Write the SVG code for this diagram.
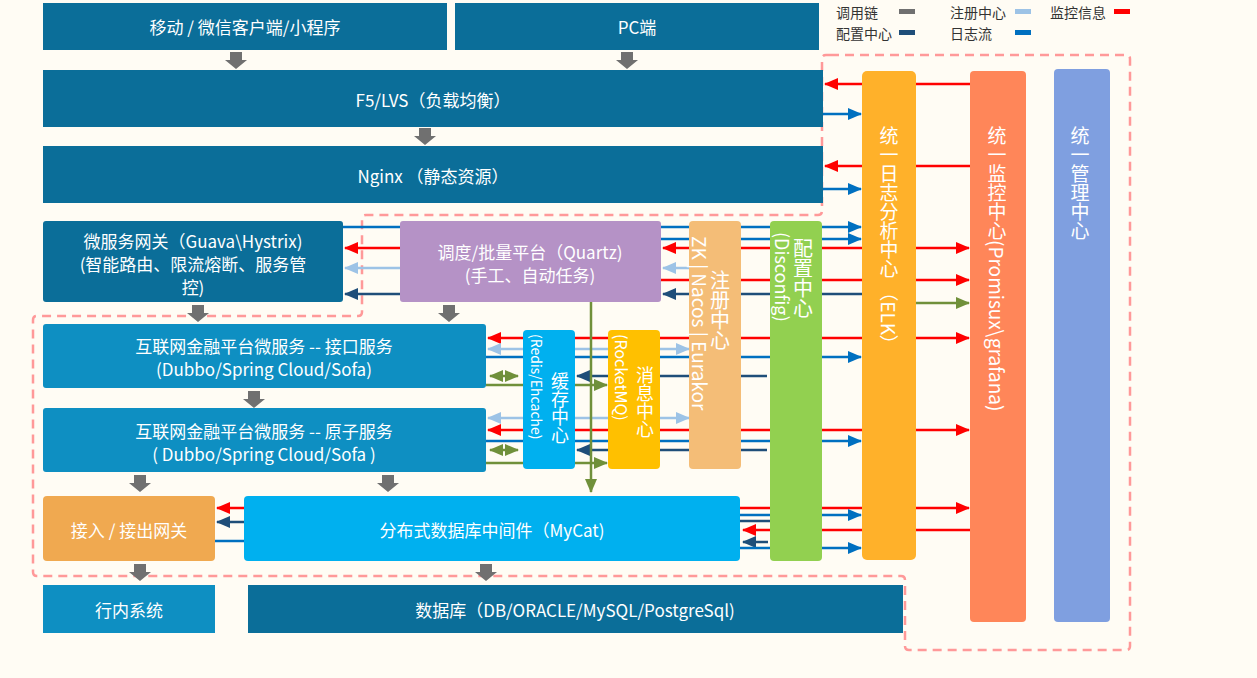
<svg xmlns="http://www.w3.org/2000/svg" width="1257" height="678" viewBox="0 0 1257 678">
<style>
text{font-family:"Noto Sans CJK SC","Liberation Sans",sans-serif;fill:#fff;font-size:17px;text-anchor:middle;dominant-baseline:central}
.v{writing-mode:vertical-rl;text-anchor:start;dominant-baseline:central;font-size:18px}
.lg{fill:#333;font-size:14px;text-anchor:start}
line{stroke-width:2.5;fill:none}
.r{stroke:#ff0000}.b{stroke:#0070c0}.lb{stroke:#9dc3e6}.d{stroke:#1f4e79}.o{stroke:#70903a}
</style>
<defs>
<marker id="mr" markerUnits="userSpaceOnUse" markerWidth="14" markerHeight="12" refX="13" refY="6" orient="auto-start-reverse"><path d="M0,0L14,6L0,12z" fill="#ff0000"/></marker>
<marker id="mb" markerUnits="userSpaceOnUse" markerWidth="14" markerHeight="12" refX="13" refY="6" orient="auto-start-reverse"><path d="M0,0L14,6L0,12z" fill="#0070c0"/></marker>
<marker id="mlb" markerUnits="userSpaceOnUse" markerWidth="14" markerHeight="12" refX="13" refY="6" orient="auto-start-reverse"><path d="M0,0L14,6L0,12z" fill="#9dc3e6"/></marker>
<marker id="md" markerUnits="userSpaceOnUse" markerWidth="14" markerHeight="12" refX="13" refY="6" orient="auto-start-reverse"><path d="M0,0L14,6L0,12z" fill="#1f4e79"/></marker>
<marker id="mo" markerUnits="userSpaceOnUse" markerWidth="14" markerHeight="12" refX="13" refY="6" orient="auto-start-reverse"><path d="M0,0L14,6L0,12z" fill="#70903a"/></marker>
<symbol id="ga" overflow="visible"><path d="M-6,0H6V8H11L0,17L-11,8H-6z" fill="#707070"/></symbol>
</defs>
<rect width="1257" height="678" fill="#fffcf4"/>
<path d="M830,55H1126Q1130,55 1130,59V646Q1130,650 1126,650H909Q905,650 905,646V580Q905,576 901,576H37Q33,576 33,572V320Q33,316 37,316H358Q362,316 362,312V219Q362,215 366,215H818Q822,215 822,211V59Q822,55 826,55z" fill="none" stroke="#ff9999" stroke-width="2.5" stroke-dasharray="9,6"/>
<g id="legend">
<text class="lg" x="836" y="12">调用链</text><rect x="899" y="9" width="16" height="5" fill="#707070"/>
<text class="lg" x="950" y="12">注册中心</text><rect x="1015" y="9" width="16" height="5" fill="#9dc3e6"/>
<text class="lg" x="1050" y="12">监控信息</text><rect x="1114" y="9" width="16" height="5" fill="#ff0000"/>
<text class="lg" x="836" y="33">配置中心</text><rect x="899" y="30" width="16" height="5" fill="#1f4e79"/>
<text class="lg" x="950" y="33">日志流</text><rect x="1015" y="30" width="16" height="5" fill="#0070c0"/>
</g>
<g id="connectors">
<line class="r" x1="970" y1="84" x2="825" y2="84" marker-end="url(#mr)"/>
<line class="b" x1="823" y1="114" x2="861" y2="114" marker-end="url(#mb)"/>
<line class="r" x1="970" y1="166" x2="825" y2="166" marker-end="url(#mr)"/>
<line class="b" x1="823" y1="189" x2="861" y2="189" marker-end="url(#mb)"/>
<line class="b" x1="343" y1="227" x2="861" y2="227" marker-end="url(#mb)"/>
<line class="b" x1="661" y1="239" x2="861" y2="239" marker-end="url(#mb)"/>
<line class="r" x1="862" y1="248" x2="663" y2="248" marker-end="url(#mr)"/>
<line class="r" x1="916" y1="248" x2="969" y2="248" marker-end="url(#mr)"/>
<line class="r" x1="400" y1="248" x2="345" y2="248" marker-end="url(#mr)"/>
<line class="lb" x1="689" y1="268" x2="663" y2="268" marker-end="url(#mlb)"/>
<line class="lb" x1="400" y1="268" x2="345" y2="268" marker-end="url(#mlb)"/>
<line class="r" x1="661" y1="280" x2="969" y2="280" marker-end="url(#mr)"/>
<line class="d" x1="862" y1="294" x2="663" y2="294" marker-end="url(#md)"/>
<line class="d" x1="400" y1="294" x2="345" y2="294" marker-end="url(#md)"/>
<line class="o" x1="916" y1="303" x2="969" y2="303" marker-end="url(#mo)"/>
<line class="r" x1="488" y1="338" x2="969" y2="338" marker-start="url(#mr)" marker-end="url(#mr)"/>
<line class="lb" x1="488" y1="349" x2="689" y2="349" marker-start="url(#mlb)" marker-end="url(#mlb)"/>
<line class="b" x1="486" y1="357" x2="861" y2="357" marker-end="url(#mb)"/>
<line class="d" x1="767" y1="376" x2="577" y2="376" marker-end="url(#md)"/>
<line class="o" x1="490" y1="376" x2="518" y2="376" marker-start="url(#mo)" marker-end="url(#mo)"/>
<line class="o" x1="486" y1="385" x2="607" y2="385" marker-end="url(#mo)"/>
<line class="lb" x1="488" y1="418" x2="689" y2="418" marker-start="url(#mlb)" marker-end="url(#mlb)"/>
<line class="r" x1="488" y1="430" x2="969" y2="430" marker-start="url(#mr)" marker-end="url(#mr)"/>
<line class="b" x1="486" y1="441" x2="861" y2="441" marker-end="url(#mb)"/>
<line class="d" x1="767" y1="450" x2="577" y2="450" marker-end="url(#md)"/>
<line class="o" x1="490" y1="450" x2="518" y2="450" marker-start="url(#mo)" marker-end="url(#mo)"/>
<line class="o" x1="486" y1="463" x2="607" y2="463" marker-end="url(#mo)"/>
<line class="o" x1="591" y1="302" x2="591" y2="492" marker-end="url(#mo)"/>
<line class="r" x1="244" y1="508" x2="217" y2="508" marker-end="url(#mr)"/>
<line class="d" x1="244" y1="522" x2="217" y2="522" marker-end="url(#md)"/>
<line class="b" x1="215" y1="541" x2="244" y2="541"/>
<line class="r" x1="740" y1="508" x2="969" y2="508" marker-end="url(#mr)"/>
<line class="b" x1="740" y1="515" x2="861" y2="515" marker-end="url(#mb)"/>
<line class="d" x1="740" y1="521" x2="770" y2="521"/>
<line class="r" x1="970" y1="530" x2="743" y2="530" marker-end="url(#mr)"/>
<line class="d" x1="768" y1="542" x2="743" y2="542" marker-end="url(#md)"/>
<line class="b" x1="740" y1="548" x2="861" y2="548" marker-end="url(#mb)"/>
<use href="#ga" x="236" y="52"/><use href="#ga" x="627" y="52"/><use href="#ga" x="425" y="128"/>
<use href="#ga" x="198" y="305"/><use href="#ga" x="449" y="305"/><use href="#ga" x="254" y="391"/>
<use href="#ga" x="140" y="475"/><use href="#ga" x="388" y="475"/><use href="#ga" x="140" y="564"/><use href="#ga" x="486" y="564"/>
</g>
<g id="mobile"><rect x="43" y="3" width="404" height="47" fill="#0b6e99"/><text x="245" y="26">移动 / 微信客户端/小程序</text></g>
<g id="pc"><rect x="455" y="3" width="364" height="47" fill="#0b6e99"/><text x="637" y="26">PC端</text></g>
<g id="f5"><rect x="43" y="70" width="780" height="57" fill="#0b6e99"/><text x="433" y="99">F5/LVS（负载均衡）</text></g>
<g id="nginx"><rect x="43" y="146" width="780" height="57" fill="#0b6e99"/><text x="433" y="175">Nginx （静态资源）</text></g>
<g id="gateway"><rect x="43" y="221" width="300" height="81" rx="3" fill="#0b6e99"/><text x="193" y="240">微服务网关（Guava\Hystrix)</text><text x="193" y="263">(智能路由、限流熔断、服务管</text><text x="193" y="286">控)</text></g>
<g id="scheduler"><rect x="400" y="221" width="261" height="81" rx="3" fill="#b592c6"/><text x="530" y="251">调度/批量平台（Quartz)</text><text x="530" y="274">(手工、自动任务)</text></g>
<g id="api"><rect x="43" y="324" width="443" height="64" rx="3" fill="#0e8fc2"/><text x="264" y="345">互联网金融平台微服务 -- 接口服务</text><text x="264" y="368">(Dubbo/Spring Cloud/Sofa)</text></g>
<g id="atom"><rect x="43" y="408" width="443" height="64" rx="3" fill="#0e8fc2"/><text x="264" y="430">互联网金融平台微服务 -- 原子服务</text><text x="264" y="453">( Dubbo/Spring Cloud/Sofa )</text></g>
<g id="cache"><rect x="523" y="330" width="52" height="139" rx="4" fill="#00b0ef"/><text class="v" x="560" y="372">缓存中心</text><text class="v" x="537" y="334" style="font-size:14px">(Redis/Ehcache)</text></g>
<g id="mq"><rect x="608" y="330" width="52" height="139" rx="4" fill="#ffc000"/><text class="v" x="645" y="366">消息中心</text><text class="v" x="622" y="334" style="font-size:16px">(RocketMQ)</text></g>
<g id="registry"><rect x="689" y="221" width="52" height="248" rx="4" fill="#f4bd77"/><text class="v" x="720" y="270" style="font-size:20px">注册中心</text><text class="v" x="700" y="236" style="font-size:19px">ZK | Nacos | Eurakor</text></g>
<g id="config"><rect x="770" y="221" width="52" height="340" rx="4" fill="#92d050"/><text class="v" x="803" y="238" style="font-size:20px">配置中心</text><text class="v" x="783" y="232">(Disconfig)</text></g>
<g id="elk"><rect x="862" y="71" width="54" height="489" rx="5" fill="#ffb12a"/><text class="v" x="889" y="126" style="font-size:19px">统一日志分析中心 （ELK）</text></g>
<g id="monitor"><rect x="970" y="71" width="56" height="551" rx="4" fill="#ff8659"/><text class="v" x="997" y="126" style="font-size:19px">统一监控中心(Promisux\grafana)</text></g>
<g id="manage"><rect x="1054" y="69" width="56" height="553" rx="4" fill="#7f9fe0"/><text class="v" x="1080" y="126" style="font-size:19px">统一管理中心</text></g>
<g id="iogw"><rect x="43" y="496" width="172" height="65" rx="4" fill="#f0a950"/><text x="129" y="529">接入 / 接出网关</text></g>
<g id="mycat"><rect x="244" y="496" width="496" height="65" rx="4" fill="#00b0ef"/><text x="492" y="529">分布式数据库中间件（MyCat)</text></g>
<g id="bank"><rect x="43" y="585" width="172" height="48" fill="#0e8fc2"/><text x="129" y="609">行内系统</text></g>
<g id="db"><rect x="248" y="585" width="655" height="48" fill="#0b6e99"/><text x="575" y="609">数据库（DB/ORACLE/MySQL/PostgreSql)</text></g>
</svg>
